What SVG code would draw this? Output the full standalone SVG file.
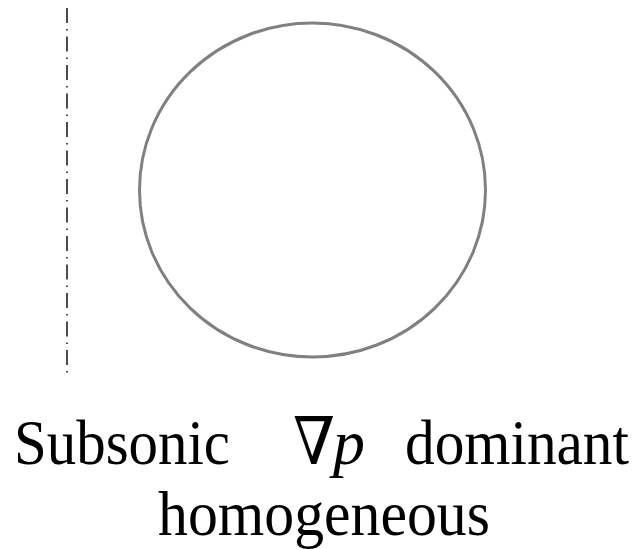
<svg xmlns="http://www.w3.org/2000/svg" width="644" height="549" viewBox="0 0 644 549">
<style>
.lbl{font-family:"Liberation Serif","Times New Roman",serif;font-size:64px;fill:#000}
.sym{font-family:"DejaVu Serif","Liberation Serif",serif;font-size:66px}
</style>
<rect width="644" height="549" fill="#fff"/>
<g id="axis">
<line x1="67" y1="8" x2="67" y2="378" stroke="#000" stroke-width="1.4" stroke-dasharray="15 6 1.5 6"/>
</g>
<g id="bubble">
<ellipse cx="312.5" cy="190" rx="173" ry="167" fill="none" stroke="#808080" stroke-width="3"/>
</g>
<g id="label">
<text class="lbl" x="14" y="464" textLength="216" lengthAdjust="spacingAndGlyphs">Subsonic</text>
<text class="lbl" x="293" y="464"><tspan class="sym" textLength="42" lengthAdjust="spacingAndGlyphs">∇</tspan><tspan x="333" font-style="italic">p</tspan></text>
<text class="lbl" x="405" y="464" textLength="224" lengthAdjust="spacingAndGlyphs">dominant</text>
<text class="lbl" x="158" y="535" textLength="332" lengthAdjust="spacingAndGlyphs">homogeneous</text>
</g>
</svg>
